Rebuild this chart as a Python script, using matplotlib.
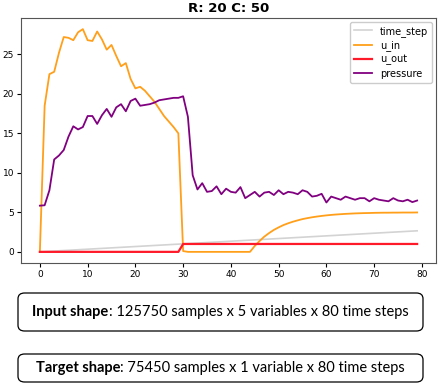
import numpy as np
import matplotlib
matplotlib.use("Agg")
import matplotlib.pyplot as plt
from matplotlib.patches import FancyBboxPatch

title = "R: 20 C: 50"
steps = list(range(80))

time_step = [0.000, 0.034, 0.067, 0.101, 0.135, 0.169, 0.202, 0.236, 0.270, 0.304,
             0.337, 0.371, 0.405, 0.439, 0.472, 0.506, 0.540, 0.574, 0.607, 0.641,
             0.675, 0.709, 0.742, 0.776, 0.810, 0.844, 0.877, 0.911, 0.945, 0.979,
             1.012, 1.046, 1.080, 1.114, 1.147, 1.181, 1.215, 1.249, 1.282, 1.316,
             1.350, 1.384, 1.417, 1.451, 1.485, 1.519, 1.552, 1.586, 1.620, 1.654,
             1.687, 1.721, 1.755, 1.789, 1.822, 1.856, 1.890, 1.924, 1.957, 1.991,
             2.025, 2.059, 2.092, 2.126, 2.160, 2.194, 2.227, 2.261, 2.295, 2.329,
             2.362, 2.396, 2.430, 2.464, 2.497, 2.531, 2.565, 2.599, 2.632, 2.666]

u_in = [0.0, 18.5, 22.5, 22.8, 25.2, 27.2, 27.1, 26.8, 27.8, 28.2,
        26.8, 26.7, 27.9, 26.9, 25.6, 26.2, 24.8, 23.5, 23.9, 21.9,
        20.7, 20.9, 20.4, 19.7, 19.0, 18.1, 17.2, 16.5, 15.8, 15.0,
        0.1, 0.0, 0.0, 0.0, 0.0, 0.0, 0.0, 0.0, 0.0, 0.0,
        0.0, 0.0, 0.0, 0.0, 0.0, 0.75, 1.37, 1.93, 2.38, 2.78,
        3.10, 3.39, 3.62, 3.82, 3.99, 4.15, 4.27, 4.38, 4.47, 4.55,
        4.62, 4.68, 4.73, 4.77, 4.81, 4.84, 4.87, 4.89, 4.91, 4.92,
        4.94, 4.95, 4.96, 4.96, 4.97, 4.97, 4.98, 4.98, 4.98, 4.99]

u_out = [0] * 30 + [1] * 50

pressure = [5.85, 5.9, 7.8, 11.7, 12.2, 12.9, 14.6, 15.9, 15.5, 15.8,
            17.2, 17.2, 16.2, 17.3, 18.1, 17.1, 18.3, 18.7, 17.8, 19.1,
            19.4, 18.5, 18.6, 18.7, 18.9, 19.2, 19.3, 19.4, 19.5, 19.5,
            19.7, 17.1, 9.7, 7.9, 8.7, 7.6, 7.7, 8.3, 7.3, 8.0,
            7.6, 7.5, 8.2, 6.8, 7.2, 7.6, 7.0, 7.5, 7.6, 7.2,
            7.8, 7.3, 7.6, 7.5, 7.3, 7.8, 7.6, 7.0, 7.1, 7.35,
            6.25, 7.0, 6.8, 6.6, 7.0, 6.8, 6.6, 6.8, 6.8, 6.4,
            6.8, 6.6, 6.5, 6.4, 6.8, 6.5, 6.4, 6.6, 6.3, 6.5]

series_names = ["time_step", "u_in", "u_out", "pressure"]
box_bold = ["Input shape", "Target shape"]
box_rest = [": 125750 samples x 5 variables x 80 time steps",
            ": 75450 samples x 1 variable x 80 time steps"]

W, H = 441, 383
fig = plt.figure(figsize=(W / 100, H / 100), dpi=100)
ax = fig.add_axes([21 / W, 1 - 263 / H, (436 - 21) / W, (263 - 18) / H])

ax.plot(steps, time_step, color="lightgray", lw=1.2, label=series_names[0])
ax.plot(steps, u_in, color="#ff9f1a", lw=1.3, label=series_names[1])
ax.plot(steps, u_out, color="#ff1a2a", lw=1.6, label=series_names[2])
ax.plot(steps, pressure, color="purple", lw=1.3, label=series_names[3])

ax.set_title(title, fontsize=9.5, fontweight="bold", pad=4)
ax.tick_params(labelsize=6.5, length=3, pad=2)
ax.set_yticks([0, 5, 10, 15, 20, 25])
ax.set_xticks([0, 10, 20, 30, 40, 50, 60, 70, 80])
for s in ax.spines.values():
    s.set_color("#555555")
    s.set_linewidth(0.8)
ax.legend(loc="upper right", fontsize=7, handlelength=1.9, borderaxespad=0.4,
          labelspacing=0.35, framealpha=1.0)

# text boxes
boxes = [(293, 331), (354, 382)]
fam = ["Lato", "DejaVu Sans"]
fs = 10.5
renderer = fig.canvas.get_renderer()
for (top, bot), b, r in zip(boxes, box_bold, box_rest):
    x0, x1 = 18, 423
    patch = FancyBboxPatch((x0 / W, 1 - bot / H), (x1 - x0) / W, (bot - top) / H,
                           boxstyle="round,pad=0,rounding_size=0.015",
                           transform=fig.transFigure, facecolor="white",
                           edgecolor="black", lw=0.9)
    fig.patches.append(patch)
    yc = 1 - (top + bot) / 2 / H
    t1 = fig.text(0, yc, b, fontsize=fs, fontweight="bold", family=fam, va="center", ha="left")
    t2 = fig.text(0, yc, r, fontsize=fs, family=fam, va="center", ha="left")
    w1 = t1.get_window_extent(renderer).width
    w2 = t2.get_window_extent(renderer).width
    start = (x0 + x1) / 2 - (w1 + w2) / 2
    t1.set_x(start / W)
    t2.set_x((start + w1) / W)

fig.savefig("out.png", dpi=100)
